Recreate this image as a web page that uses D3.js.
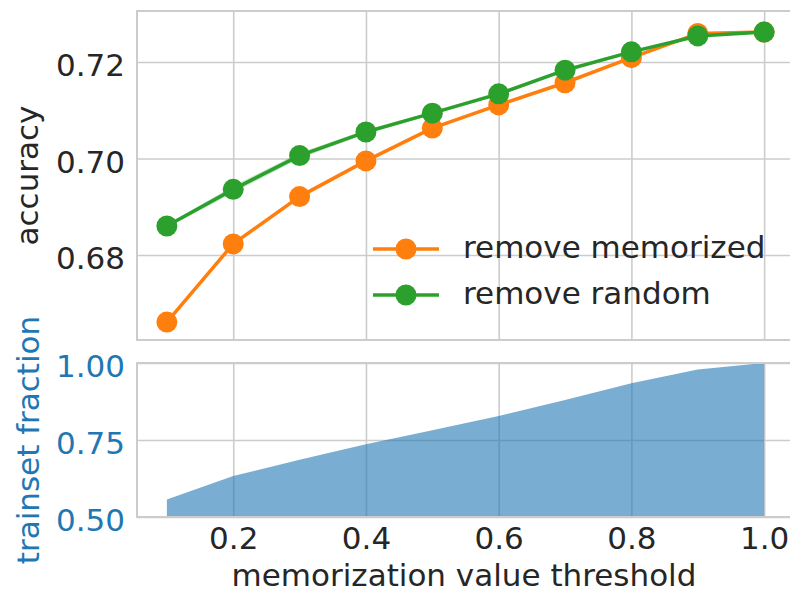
<!DOCTYPE html>
<html>
<head>
<meta charset="utf-8">
<script src="https://cdn.jsdelivr.net/npm/d3@7"></script>
<style>
  html, body { margin: 0; padding: 0; background: #fff; }
  svg { display: block; }
  text { font-family: "DejaVu Sans", sans-serif; }
</style>
</head>
<body>
<svg id="chart" width="790" height="601"></svg>
<script>
// Thresholds on the memorization value
const thresholds = [0.1, 0.2, 0.3, 0.4, 0.5, 0.6, 0.7, 0.8, 0.9, 1.0];

// Test accuracy after removing training examples
const accMemorized = [0.6661, 0.6823, 0.6921, 0.6995, 0.7063, 0.7111, 0.7157, 0.7209, 0.7259, 0.7262];
const accRandom    = [0.6860, 0.6936, 0.7006, 0.7055, 0.7094, 0.7134, 0.7183, 0.7221, 0.7254, 0.7262];
// Half-width of the shaded spread around each curve
const spreadMemorized = [0.0003, 0.0004, 0.0004, 0.0003, 0.0003, 0.0003, 0.0003, 0.0002, 0.0002, 0.0001];
const spreadRandom    = [0.0003, 0.0007, 0.0006, 0.0004, 0.0003, 0.0004, 0.0003, 0.0002, 0.0002, 0.0001];

// Fraction of the training set kept at each threshold
const trainFraction = [0.557, 0.633, 0.686, 0.736, 0.782, 0.828, 0.880, 0.934, 0.979, 1.0];

const xTicks = [0.2, 0.4, 0.6, 0.8, 1.0];
const accTicks = [0.68, 0.70, 0.72];
const fracTicks = [0.50, 0.75, 1.00];

const seriesNames = ["remove memorized", "remove random"];
const seriesColors = ["#ff7f0e", "#2ca02c"];

const svg = d3.select("#chart");
const gridColor = "#cccccc";
const textColor = "#262626";
const blue = "#1f77b4";
const fontSize = 31;

const left = 137, right = 794;
const top1 = 11, bottom1 = 340;
const top2 = 363, bottom2 = 517;

const x = d3.scaleLinear().domain([0.055, 1.045]).range([left, right]);
const yAcc = d3.scaleLinear().domain([0.66238, 0.73057]).range([bottom1, top1]);
const yFrac = d3.scaleLinear().domain([0.5, 1.0]).range([bottom2, top2]);

function panel(yScale, yTickVals, top, bottom, fmt, labelColor) {
  const g = svg.append("g");
  // vertical grid
  g.append("g")
    .attr("transform", `translate(0,${bottom})`)
    .call(d3.axisBottom(x).tickValues(xTicks).tickSize(-(bottom - top)).tickFormat(""))
    .call(a => a.select(".domain").remove())
    .call(a => a.selectAll("line").attr("stroke", gridColor).attr("stroke-width", 1.6));
  // horizontal grid + labels
  g.append("g")
    .attr("transform", `translate(${left},0)`)
    .call(d3.axisLeft(yScale).tickValues(yTickVals).tickSize(-(right - left)).tickPadding(12).tickFormat(fmt))
    .call(a => a.select(".domain").remove())
    .call(a => a.selectAll("line").attr("stroke", gridColor).attr("stroke-width", 1.6))
    .call(a => a.selectAll("text")
      .attr("x", -12)
      .attr("dy", "0.44em")
      .attr("fill", labelColor)
      .style("font-size", fontSize + "px")
      .style("font-family", "'DejaVu Sans', sans-serif"));
  return g;
}

function frame(top, bottom) {
  svg.append("rect")
    .attr("x", left).attr("y", top)
    .attr("width", right - left).attr("height", bottom - top)
    .attr("fill", "none").attr("stroke", gridColor).attr("stroke-width", 2);
}

// ---- top panel: accuracy ----
panel(yAcc, accTicks, top1, bottom1, d3.format(".2f"), textColor);

const accSeries = [
  { vals: accMemorized, spread: spreadMemorized, color: seriesColors[0] },
  { vals: accRandom, spread: spreadRandom, color: seriesColors[1] }
];

const plot = svg.append("g");
accSeries.forEach(s => {
  const pts = thresholds.map((t, i) => ({ t, v: s.vals[i], e: s.spread[i] }));
  plot.append("path")
    .datum(pts)
    .attr("d", d3.area().x(d => x(d.t)).y0(d => yAcc(d.v - d.e)).y1(d => yAcc(d.v + d.e)))
    .attr("fill", s.color).attr("fill-opacity", 0.25);
  plot.append("path")
    .datum(pts)
    .attr("d", d3.line().x(d => x(d.t)).y(d => yAcc(d.v)))
    .attr("fill", "none").attr("stroke", s.color).attr("stroke-width", 3.5)
    .attr("stroke-linejoin", "round").attr("stroke-linecap", "round");
  plot.selectAll(null).data(pts).enter().append("circle")
    .attr("cx", d => x(d.t)).attr("cy", d => yAcc(d.v)).attr("r", 10.5)
    .attr("fill", s.color);
});

frame(top1, bottom1);

// legend
const legend = svg.append("g");
seriesNames.forEach((name, i) => {
  const ly = 249 + i * 46;
  legend.append("line").attr("x1", 373).attr("x2", 439).attr("y1", ly).attr("y2", ly)
    .attr("stroke", seriesColors[i]).attr("stroke-width", 3.5);
  legend.append("circle").attr("cx", 406).attr("cy", ly).attr("r", 10.5).attr("fill", seriesColors[i]);
  legend.append("text").attr("x", 463).attr("y", ly + 9)
    .attr("fill", textColor).style("font-size", fontSize + "px").text(name);
});

svg.append("text")
  .attr("transform", `translate(38,${(top1 + bottom1) / 2}) rotate(-90)`)
  .attr("text-anchor", "middle")
  .attr("fill", textColor).style("font-size", fontSize + "px")
  .text("accuracy");

// ---- bottom panel: trainset fraction ----
panel(yFrac, fracTicks, top2, bottom2, d3.format(".2f"), blue);

svg.append("path")
  .datum(thresholds.map((t, i) => ({ t, v: trainFraction[i] })))
  .attr("d", d3.area().x(d => x(d.t)).y0(yFrac(0.5)).y1(d => yFrac(d.v)))
  .attr("fill", blue).attr("fill-opacity", 0.6);

frame(top2, bottom2);

// x tick labels
svg.append("g")
  .attr("transform", `translate(0,${bottom2})`)
  .call(d3.axisBottom(x).tickValues(xTicks).tickSize(0).tickFormat(d3.format(".1f")))
  .call(a => a.select(".domain").remove())
  .call(a => a.selectAll("text")
    .attr("y", 32)
    .attr("dy", 0)
    .attr("fill", textColor)
    .style("font-size", fontSize + "px")
    .style("font-family", "'DejaVu Sans', sans-serif"));

svg.append("text")
  .attr("x", 464).attr("y", 586)
  .attr("text-anchor", "middle")
  .attr("fill", textColor).style("font-size", fontSize + "px")
  .text("memorization value threshold");

svg.append("text")
  .attr("transform", `translate(39,${(top2 + bottom2) / 2}) rotate(-90)`)
  .attr("text-anchor", "middle")
  .attr("fill", blue).style("font-size", fontSize + "px")
  .text("trainset fraction");
</script>
</body>
</html>
